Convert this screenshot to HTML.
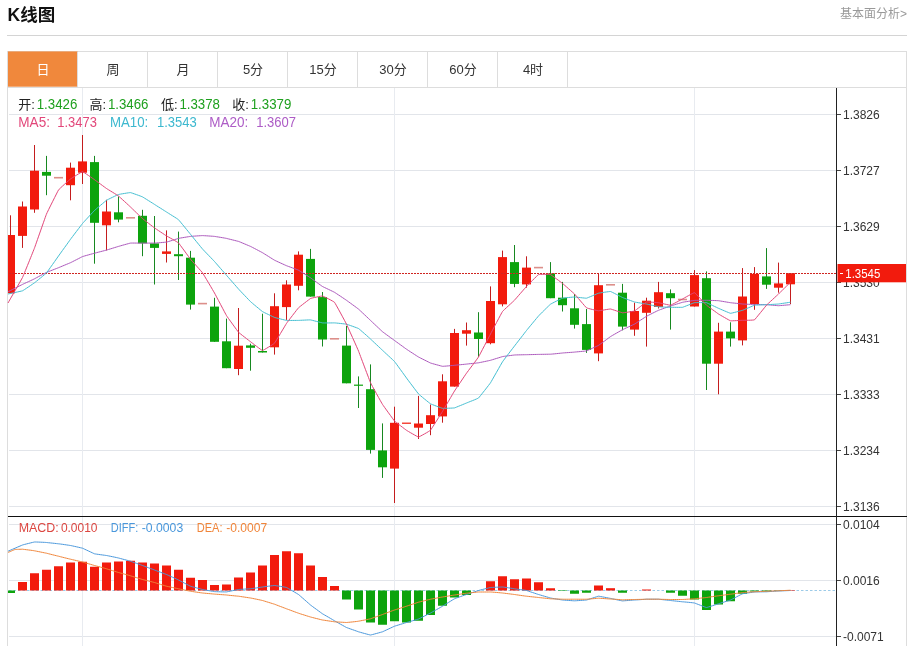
<!DOCTYPE html>
<html lang="zh-CN">
<head>
<meta charset="utf-8">
<title>K线图</title>
<style>
html,body{margin:0;padding:0;background:#fff;}
body{width:912px;height:646px;overflow:hidden;font-family:'Liberation Sans','Noto Sans CJK SC',sans-serif;}
svg{display:block;}
svg text{font-family:'Liberation Sans','Noto Sans CJK SC',sans-serif;}
</style>
</head>
<body>
<svg width="912" height="646" viewBox="0 0 912 646">
<rect width="912" height="646" fill="#fff"/>
<text x="7.6" y="21.3" font-size="17.5" font-weight="bold" fill="#111">K线图</text>
<text x="907" y="17.5" font-size="12" fill="#999" text-anchor="end">基本面分析&gt;</text>
<rect x="7" y="35" width="900" height="1" fill="#d4d4d4"/>
<rect x="7.5" y="51.5" width="899" height="36" fill="#fff" stroke="#ddd"/>
<rect x="8" y="51.4" width="69.5" height="35.3" fill="#f0883c"/>
<rect x="77" y="52" width="1" height="35" fill="#ddd"/>
<rect x="147" y="52" width="1" height="35" fill="#ddd"/>
<rect x="217" y="52" width="1" height="35" fill="#ddd"/>
<rect x="287" y="52" width="1" height="35" fill="#ddd"/>
<rect x="357" y="52" width="1" height="35" fill="#ddd"/>
<rect x="427" y="52" width="1" height="35" fill="#ddd"/>
<rect x="497" y="52" width="1" height="35" fill="#ddd"/>
<rect x="567" y="52" width="1" height="35" fill="#ddd"/>
<text x="43" y="74" font-size="13" text-anchor="middle" fill="#fff">日</text>
<text x="113" y="74" font-size="13" text-anchor="middle" fill="#333">周</text>
<text x="183" y="74" font-size="13" text-anchor="middle" fill="#333">月</text>
<text x="253" y="74" font-size="13" text-anchor="middle" fill="#333">5分</text>
<text x="323" y="74" font-size="13" text-anchor="middle" fill="#333">15分</text>
<text x="393" y="74" font-size="13" text-anchor="middle" fill="#333">30分</text>
<text x="463" y="74" font-size="13" text-anchor="middle" fill="#333">60分</text>
<text x="533" y="74" font-size="13" text-anchor="middle" fill="#333">4时</text>
<rect x="7" y="88" width="1" height="558" fill="#ddd"/>
<rect x="906" y="88" width="1" height="558" fill="#ddd"/>
<rect x="9" y="114" width="827" height="1" fill="#e2e5ea"/>
<rect x="9" y="170" width="827" height="1" fill="#e2e5ea"/>
<rect x="9" y="226" width="827" height="1" fill="#e2e5ea"/>
<rect x="9" y="282" width="827" height="1" fill="#e2e5ea"/>
<rect x="9" y="338" width="827" height="1" fill="#e2e5ea"/>
<rect x="9" y="394" width="827" height="1" fill="#e2e5ea"/>
<rect x="9" y="450" width="827" height="1" fill="#e2e5ea"/>
<rect x="9" y="506" width="827" height="1" fill="#e2e5ea"/>
<rect x="9" y="524" width="827" height="1" fill="#e2e5ea"/>
<rect x="9" y="580" width="827" height="1" fill="#e2e5ea"/>
<rect x="9" y="636" width="827" height="1" fill="#e2e5ea"/>
<rect x="82" y="88" width="1" height="558" fill="#e8ebf0"/>
<rect x="394" y="88" width="1" height="558" fill="#e8ebf0"/>
<rect x="694" y="88" width="1" height="558" fill="#e8ebf0"/>
<line x1="9" y1="590.5" x2="836" y2="590.5" stroke="#9ccbe8" stroke-width="1" stroke-dasharray="2.5,2"/>
<g shape-rendering="auto">
<line x1="10.5" y1="215.3" x2="10.5" y2="293.3" stroke="#c41d1e" stroke-width="1"/>
<rect x="8.0" y="235.0" width="7.0" height="58.3" fill="#f21b0d"/>
<line x1="22.5" y1="201.5" x2="22.5" y2="247.9" stroke="#c41d1e" stroke-width="1"/>
<rect x="18.0" y="206.5" width="9.0" height="29.4" fill="#f21b0d"/>
<line x1="34.5" y1="145.0" x2="34.5" y2="212.8" stroke="#c41d1e" stroke-width="1"/>
<rect x="30.0" y="170.7" width="9.0" height="38.8" fill="#f21b0d"/>
<line x1="46.5" y1="155.9" x2="46.5" y2="195.2" stroke="#178820" stroke-width="1"/>
<rect x="42.0" y="171.9" width="9.0" height="3.8" fill="#0da30d"/>
<rect x="54.0" y="176.9" width="9" height="1.6" fill="#dc8f8a"/>
<line x1="70.5" y1="162.6" x2="70.5" y2="200.3" stroke="#c41d1e" stroke-width="1"/>
<rect x="66.0" y="167.7" width="9.0" height="17.5" fill="#f21b0d"/>
<line x1="82.5" y1="135.0" x2="82.5" y2="184.0" stroke="#c41d1e" stroke-width="1"/>
<rect x="78.0" y="161.4" width="9.0" height="11.3" fill="#f21b0d"/>
<line x1="94.5" y1="155.9" x2="94.5" y2="263.7" stroke="#178820" stroke-width="1"/>
<rect x="90.0" y="162.1" width="9.0" height="60.7" fill="#0da30d"/>
<line x1="106.5" y1="199.8" x2="106.5" y2="250.4" stroke="#c41d1e" stroke-width="1"/>
<rect x="102.0" y="211.5" width="9.0" height="13.8" fill="#f21b0d"/>
<line x1="118.5" y1="196.5" x2="118.5" y2="222.3" stroke="#178820" stroke-width="1"/>
<rect x="114.0" y="212.3" width="9.0" height="7.3" fill="#0da30d"/>
<rect x="126.0" y="217.0" width="9" height="1.6" fill="#dc8f8a"/>
<line x1="142.5" y1="209.8" x2="142.5" y2="256.2" stroke="#178820" stroke-width="1"/>
<rect x="138.0" y="215.8" width="9.0" height="27.6" fill="#0da30d"/>
<line x1="154.5" y1="216.0" x2="154.5" y2="284.5" stroke="#178820" stroke-width="1"/>
<rect x="150.0" y="243.4" width="9.0" height="4.5" fill="#0da30d"/>
<line x1="166.5" y1="230.4" x2="166.5" y2="262.5" stroke="#c41d1e" stroke-width="1"/>
<rect x="162.0" y="251.4" width="9.0" height="2.5" fill="#f21b0d"/>
<line x1="178.5" y1="231.6" x2="178.5" y2="280.0" stroke="#178820" stroke-width="1"/>
<rect x="174.0" y="254.2" width="9.0" height="2.0" fill="#0da30d"/>
<line x1="190.5" y1="250.9" x2="190.5" y2="309.6" stroke="#178820" stroke-width="1"/>
<rect x="186.0" y="257.7" width="9.0" height="46.9" fill="#0da30d"/>
<rect x="198.0" y="302.8" width="9" height="1.6" fill="#dc8f8a"/>
<line x1="214.5" y1="297.8" x2="214.5" y2="341.8" stroke="#178820" stroke-width="1"/>
<rect x="210.0" y="306.6" width="9.0" height="35.2" fill="#0da30d"/>
<line x1="226.5" y1="318.6" x2="226.5" y2="368.2" stroke="#178820" stroke-width="1"/>
<rect x="222.0" y="341.3" width="9.0" height="26.9" fill="#0da30d"/>
<line x1="238.5" y1="308.0" x2="238.5" y2="375.2" stroke="#c41d1e" stroke-width="1"/>
<rect x="234.0" y="345.7" width="9.0" height="23.3" fill="#f21b0d"/>
<line x1="250.5" y1="343.7" x2="250.5" y2="370.7" stroke="#178820" stroke-width="1"/>
<rect x="246.0" y="345.4" width="9.0" height="2.4" fill="#0da30d"/>
<line x1="262.5" y1="313.7" x2="262.5" y2="352.5" stroke="#178820" stroke-width="1"/>
<rect x="258.0" y="351.0" width="9.0" height="1.5" fill="#0da30d"/>
<line x1="274.5" y1="293.3" x2="274.5" y2="354.6" stroke="#c41d1e" stroke-width="1"/>
<rect x="270.0" y="306.2" width="9.0" height="41.1" fill="#f21b0d"/>
<line x1="286.5" y1="280.3" x2="286.5" y2="319.9" stroke="#c41d1e" stroke-width="1"/>
<rect x="282.0" y="284.5" width="9.0" height="22.6" fill="#f21b0d"/>
<line x1="298.5" y1="251.4" x2="298.5" y2="290.3" stroke="#c41d1e" stroke-width="1"/>
<rect x="294.0" y="254.7" width="9.0" height="31.1" fill="#f21b0d"/>
<line x1="310.5" y1="248.9" x2="310.5" y2="296.6" stroke="#178820" stroke-width="1"/>
<rect x="306.0" y="258.9" width="9.0" height="37.7" fill="#0da30d"/>
<line x1="322.5" y1="292.0" x2="322.5" y2="346.5" stroke="#178820" stroke-width="1"/>
<rect x="318.0" y="297.1" width="9.0" height="42.4" fill="#0da30d"/>
<rect x="330.0" y="338.0" width="9" height="1.6" fill="#dc8f8a"/>
<line x1="346.5" y1="326.0" x2="346.5" y2="383.3" stroke="#178820" stroke-width="1"/>
<rect x="342.0" y="345.6" width="9.0" height="37.7" fill="#0da30d"/>
<line x1="358.5" y1="376.4" x2="358.5" y2="408.0" stroke="#178820" stroke-width="1"/>
<rect x="354.0" y="384.6" width="9.0" height="1.2" fill="#0da30d"/>
<line x1="370.5" y1="364.4" x2="370.5" y2="453.6" stroke="#178820" stroke-width="1"/>
<rect x="366.0" y="389.2" width="9.0" height="60.7" fill="#0da30d"/>
<line x1="382.5" y1="423.4" x2="382.5" y2="477.9" stroke="#178820" stroke-width="1"/>
<rect x="378.0" y="450.4" width="9.0" height="16.9" fill="#0da30d"/>
<line x1="394.5" y1="406.7" x2="394.5" y2="503.0" stroke="#c41d1e" stroke-width="1"/>
<rect x="390.0" y="422.8" width="9.0" height="45.8" fill="#f21b0d"/>
<line x1="406.5" y1="423.2" x2="406.5" y2="423.2" stroke="#c41d1e" stroke-width="1"/>
<rect x="402.0" y="422.6" width="9.0" height="1.2" fill="#f21b0d"/>
<line x1="418.5" y1="395.9" x2="418.5" y2="439.0" stroke="#c41d1e" stroke-width="1"/>
<rect x="414.0" y="423.5" width="9.0" height="4.2" fill="#f21b0d"/>
<line x1="430.5" y1="404.6" x2="430.5" y2="435.2" stroke="#c41d1e" stroke-width="1"/>
<rect x="426.0" y="415.2" width="9.0" height="8.8" fill="#f21b0d"/>
<line x1="442.5" y1="374.3" x2="442.5" y2="422.7" stroke="#c41d1e" stroke-width="1"/>
<rect x="438.0" y="381.3" width="9.0" height="35.1" fill="#f21b0d"/>
<line x1="454.5" y1="328.9" x2="454.5" y2="386.6" stroke="#c41d1e" stroke-width="1"/>
<rect x="450.0" y="333.0" width="9.0" height="53.6" fill="#f21b0d"/>
<line x1="466.5" y1="322.5" x2="466.5" y2="345.6" stroke="#c41d1e" stroke-width="1"/>
<rect x="462.0" y="330.2" width="9.0" height="3.5" fill="#f21b0d"/>
<line x1="478.5" y1="312.2" x2="478.5" y2="356.8" stroke="#178820" stroke-width="1"/>
<rect x="474.0" y="332.5" width="9.0" height="6.5" fill="#0da30d"/>
<line x1="490.5" y1="286.4" x2="490.5" y2="344.3" stroke="#c41d1e" stroke-width="1"/>
<rect x="486.0" y="301.0" width="9.0" height="42.2" fill="#f21b0d"/>
<line x1="502.5" y1="250.6" x2="502.5" y2="306.4" stroke="#c41d1e" stroke-width="1"/>
<rect x="498.0" y="257.1" width="9.0" height="47.2" fill="#f21b0d"/>
<line x1="514.5" y1="245.0" x2="514.5" y2="287.2" stroke="#178820" stroke-width="1"/>
<rect x="510.0" y="262.1" width="9.0" height="21.8" fill="#0da30d"/>
<line x1="526.5" y1="256.3" x2="526.5" y2="287.7" stroke="#c41d1e" stroke-width="1"/>
<rect x="522.0" y="267.6" width="9.0" height="16.8" fill="#f21b0d"/>
<rect x="534.0" y="266.8" width="9" height="1.6" fill="#dc8f8a"/>
<line x1="550.5" y1="262.1" x2="550.5" y2="298.2" stroke="#178820" stroke-width="1"/>
<rect x="546.0" y="273.4" width="9.0" height="24.8" fill="#0da30d"/>
<line x1="562.5" y1="281.9" x2="562.5" y2="311.5" stroke="#178820" stroke-width="1"/>
<rect x="558.0" y="297.7" width="9.0" height="7.5" fill="#0da30d"/>
<line x1="574.5" y1="294.0" x2="574.5" y2="328.6" stroke="#178820" stroke-width="1"/>
<rect x="570.0" y="308.3" width="9.0" height="16.5" fill="#0da30d"/>
<line x1="586.5" y1="309.0" x2="586.5" y2="352.9" stroke="#178820" stroke-width="1"/>
<rect x="582.0" y="324.1" width="9.0" height="25.8" fill="#0da30d"/>
<line x1="598.5" y1="273.9" x2="598.5" y2="361.2" stroke="#c41d1e" stroke-width="1"/>
<rect x="594.0" y="285.2" width="9.0" height="68.2" fill="#f21b0d"/>
<rect x="606.0" y="284.0" width="9" height="1.6" fill="#dc8f8a"/>
<line x1="622.5" y1="283.9" x2="622.5" y2="330.3" stroke="#178820" stroke-width="1"/>
<rect x="618.0" y="292.7" width="9.0" height="33.9" fill="#0da30d"/>
<line x1="634.5" y1="302.7" x2="634.5" y2="335.8" stroke="#c41d1e" stroke-width="1"/>
<rect x="630.0" y="311.0" width="9.0" height="18.6" fill="#f21b0d"/>
<line x1="646.5" y1="297.7" x2="646.5" y2="346.6" stroke="#c41d1e" stroke-width="1"/>
<rect x="642.0" y="300.7" width="9.0" height="12.1" fill="#f21b0d"/>
<line x1="658.5" y1="281.9" x2="658.5" y2="308.5" stroke="#c41d1e" stroke-width="1"/>
<rect x="654.0" y="292.2" width="9.0" height="14.8" fill="#f21b0d"/>
<line x1="670.5" y1="289.4" x2="670.5" y2="329.6" stroke="#178820" stroke-width="1"/>
<rect x="666.0" y="293.2" width="9.0" height="5.0" fill="#0da30d"/>
<rect x="678.0" y="298.7" width="9" height="1.6" fill="#dc8f8a"/>
<line x1="694.5" y1="270.1" x2="694.5" y2="306.5" stroke="#c41d1e" stroke-width="1"/>
<rect x="690.0" y="275.1" width="9.0" height="31.4" fill="#f21b0d"/>
<line x1="706.5" y1="271.4" x2="706.5" y2="390.0" stroke="#178820" stroke-width="1"/>
<rect x="702.0" y="278.2" width="9.0" height="85.5" fill="#0da30d"/>
<line x1="718.5" y1="322.8" x2="718.5" y2="394.3" stroke="#c41d1e" stroke-width="1"/>
<rect x="714.0" y="331.6" width="9.0" height="32.1" fill="#f21b0d"/>
<line x1="730.5" y1="322.3" x2="730.5" y2="346.6" stroke="#178820" stroke-width="1"/>
<rect x="726.0" y="331.6" width="9.0" height="6.8" fill="#0da30d"/>
<line x1="742.5" y1="268.1" x2="742.5" y2="345.4" stroke="#c41d1e" stroke-width="1"/>
<rect x="738.0" y="296.5" width="9.0" height="43.9" fill="#f21b0d"/>
<line x1="754.5" y1="267.1" x2="754.5" y2="309.8" stroke="#c41d1e" stroke-width="1"/>
<rect x="750.0" y="273.9" width="9.0" height="30.1" fill="#f21b0d"/>
<line x1="766.5" y1="248.1" x2="766.5" y2="288.9" stroke="#178820" stroke-width="1"/>
<rect x="762.0" y="276.4" width="9.0" height="8.3" fill="#0da30d"/>
<line x1="778.5" y1="262.6" x2="778.5" y2="292.7" stroke="#c41d1e" stroke-width="1"/>
<rect x="774.0" y="283.4" width="9.0" height="4.3" fill="#f21b0d"/>
<line x1="790.5" y1="273.2" x2="790.5" y2="304.0" stroke="#c41d1e" stroke-width="1"/>
<rect x="786.0" y="273.2" width="9.0" height="11.1" fill="#f21b0d"/>
</g>
<line x1="9" y1="273.5" x2="837" y2="273.5" stroke="#cf2420" stroke-width="1" stroke-dasharray="2,1"/>
<path fill="none" stroke="#ac58bc" stroke-width="1.0" stroke-linejoin="round" d="M8.0,291.8 C8.4,291.6 21.7,284.8 22.5,284.4 C23.3,284.0 33.8,279.2 34.5,278.8 C35.2,278.4 45.8,272.7 46.5,272.4 C47.2,272.1 57.8,268.0 58.5,267.7 C59.2,267.4 69.8,263.0 70.5,262.7 C71.2,262.4 81.8,256.9 82.5,256.6 C83.2,256.3 93.8,253.4 94.5,253.2 C95.2,253.0 105.8,250.3 106.5,250.1 C107.2,249.9 117.8,246.6 118.5,246.4 C119.2,246.2 129.8,243.2 130.5,243.1 C131.2,243.0 141.8,243.1 142.5,243.1 C143.2,243.1 153.8,243.1 154.5,243.1 C155.2,243.1 165.8,242.2 166.5,242.1 C167.2,242.0 177.8,238.6 178.5,238.4 C179.2,238.2 189.8,236.5 190.5,236.4 C191.2,236.3 201.8,235.6 202.5,235.6 C203.2,235.6 213.8,236.3 214.5,236.4 C215.2,236.5 225.8,238.2 226.5,238.4 C227.2,238.6 237.8,241.2 238.5,241.4 C239.2,241.6 249.8,246.1 250.5,246.4 C251.2,246.7 261.8,252.3 262.5,252.7 C263.2,253.1 273.8,259.8 274.5,260.2 C275.2,260.6 285.8,265.4 286.5,265.7 C287.2,266.0 297.8,269.8 298.5,270.2 C299.2,270.6 309.8,277.3 310.5,277.8 C311.2,278.3 321.8,286.1 322.5,286.5 C323.2,286.9 333.8,291.9 334.5,292.3 C335.2,292.7 345.8,299.8 346.5,300.3 C347.2,300.8 357.8,308.5 358.5,309.1 C359.2,309.7 369.8,319.7 370.5,320.4 C371.2,321.1 381.8,331.1 382.5,331.7 C383.2,332.3 393.8,340.0 394.5,340.5 C395.2,341.0 405.8,348.7 406.5,349.2 C407.2,349.7 417.8,356.6 418.5,357.0 C419.2,357.4 429.8,362.7 430.5,363.0 C431.2,363.3 441.8,366.2 442.5,366.3 C443.2,366.4 453.8,365.4 454.5,365.3 C455.2,365.2 465.8,364.2 466.5,364.1 C467.2,364.0 477.8,362.9 478.5,362.8 C479.2,362.7 489.8,360.5 490.5,360.3 C491.2,360.1 501.8,356.8 502.5,356.6 C503.2,356.4 513.8,355.1 514.5,355.0 C515.2,354.9 525.8,354.7 526.5,354.7 C527.2,354.7 537.8,354.4 538.5,354.4 C539.2,354.4 549.8,354.2 550.5,354.2 C551.2,354.2 561.8,353.1 562.5,353.0 C563.2,352.9 573.8,352.2 574.5,352.1 C575.2,352.0 585.8,351.1 586.5,350.9 C587.2,350.7 597.8,345.8 598.5,345.4 C599.2,345.0 609.8,337.1 610.5,336.6 C611.2,336.1 621.8,330.1 622.5,329.7 C623.2,329.3 633.8,324.5 634.5,324.1 C635.2,323.7 645.8,316.7 646.5,316.3 C647.2,315.9 657.8,310.6 658.5,310.3 C659.2,310.0 669.8,306.2 670.5,306.0 C671.2,305.8 681.8,302.5 682.5,302.3 C683.2,302.1 693.8,300.5 694.5,300.4 C695.2,300.3 705.8,300.3 706.5,300.3 C707.2,300.3 717.8,300.6 718.5,300.7 C719.2,300.8 729.8,302.6 730.5,302.7 C731.2,302.8 741.8,303.9 742.5,304.0 C743.2,304.1 753.8,304.5 754.5,304.5 C755.2,304.5 765.8,304.7 766.5,304.7 C767.2,304.7 777.8,305.7 778.5,305.7 C779.2,305.7 790.1,304.7 790.5,304.7"/>
<path fill="none" stroke="#45bfd2" stroke-width="1.0" stroke-linejoin="round" d="M8.0,294.0 C8.4,293.9 21.7,291.1 22.5,290.8 C23.3,290.5 33.8,283.3 34.5,282.8 C35.2,282.3 45.8,273.7 46.5,272.9 C47.2,272.1 57.8,257.0 58.5,256.0 C59.2,255.0 69.8,240.3 70.5,239.3 C71.2,238.3 81.8,224.4 82.5,223.5 C83.2,222.6 93.8,211.2 94.5,210.5 C95.2,209.8 105.8,200.8 106.5,200.3 C107.2,199.8 117.8,194.7 118.5,194.5 C119.2,194.3 129.8,192.5 130.5,192.6 C131.2,192.7 141.8,196.5 142.5,196.9 C143.2,197.3 153.8,203.9 154.5,204.4 C155.2,204.9 165.8,211.5 166.5,212.0 C167.2,212.5 177.8,219.0 178.5,219.7 C179.2,220.4 189.8,233.4 190.5,234.3 C191.2,235.2 201.8,248.2 202.5,249.0 C203.2,249.8 213.8,260.7 214.5,261.5 C215.2,262.3 225.8,274.5 226.5,275.3 C227.2,276.1 237.8,288.2 238.5,289.0 C239.2,289.8 249.8,300.9 250.5,301.6 C251.2,302.3 261.8,311.1 262.5,311.6 C263.2,312.1 273.8,317.1 274.5,317.4 C275.2,317.7 285.8,320.3 286.5,320.4 C287.2,320.5 297.8,320.4 298.5,320.4 C299.2,320.4 309.8,319.8 310.5,319.9 C311.2,320.0 321.8,322.8 322.5,322.9 C323.2,323.0 333.8,322.9 334.5,322.9 C335.2,322.9 345.8,324.0 346.5,324.2 C347.2,324.4 357.8,328.1 358.5,328.5 C359.2,328.9 369.8,338.3 370.5,339.0 C371.2,339.7 381.8,349.6 382.5,350.3 C383.2,351.0 393.8,360.7 394.5,361.5 C395.2,362.3 405.8,377.0 406.5,378.0 C407.2,379.0 417.8,393.1 418.5,393.9 C419.2,394.7 429.8,403.4 430.5,403.8 C431.2,404.2 441.8,408.2 442.5,408.3 C443.2,408.4 453.8,408.1 454.5,407.9 C455.2,407.7 465.8,403.3 466.5,403.0 C467.2,402.7 477.8,398.6 478.5,398.0 C479.2,397.4 489.8,383.9 490.5,382.8 C491.2,381.7 501.8,362.9 502.5,361.8 C503.2,360.7 513.8,346.9 514.5,346.0 C515.2,345.1 525.8,331.4 526.5,330.5 C527.2,329.6 537.8,316.8 538.5,316.0 C539.2,315.2 549.8,304.7 550.5,304.2 C551.2,303.7 561.8,298.4 562.5,298.2 C563.2,298.0 573.8,297.0 574.5,297.0 C575.2,297.0 585.8,298.3 586.5,298.2 C587.2,298.1 597.8,293.4 598.5,293.2 C599.2,293.0 609.8,291.4 610.5,291.5 C611.2,291.6 621.8,297.2 622.5,297.5 C623.2,297.8 633.8,301.8 634.5,302.0 C635.2,302.2 645.8,303.9 646.5,304.0 C647.2,304.1 657.8,306.7 658.5,306.8 C659.2,306.9 669.8,307.3 670.5,307.3 C671.2,307.3 681.8,307.4 682.5,307.3 C683.2,307.2 693.8,302.8 694.5,302.7 C695.2,302.6 705.8,302.5 706.5,302.7 C707.2,302.9 717.8,308.0 718.5,308.3 C719.2,308.6 729.8,313.2 730.5,313.3 C731.2,313.4 741.8,310.5 742.5,310.3 C743.2,310.1 753.8,305.4 754.5,305.2 C755.2,305.0 765.8,304.7 766.5,304.7 C767.2,304.7 777.8,304.1 778.5,304.0 C779.2,303.9 790.1,302.3 790.5,302.2"/>
<path fill="none" stroke="#e2477a" stroke-width="1.0" stroke-linejoin="round" d="M8.0,303.0 C8.4,302.2 21.7,279.1 22.5,277.5 C23.3,275.9 33.8,249.9 34.5,248.0 C35.2,246.1 45.8,215.7 46.5,214.0 C47.2,212.3 57.8,191.1 58.5,190.0 C59.2,188.9 69.8,179.5 70.5,179.0 C71.2,178.5 81.8,171.7 82.5,171.7 C83.2,171.7 93.8,179.2 94.5,179.7 C95.2,180.2 105.8,188.0 106.5,188.5 C107.2,189.0 117.8,195.4 118.5,196.0 C119.2,196.6 129.8,206.3 130.5,207.0 C131.2,207.7 141.8,218.0 142.5,218.6 C143.2,219.2 153.8,227.4 154.5,227.9 C155.2,228.4 165.8,235.5 166.5,235.9 C167.2,236.3 177.8,242.2 178.5,242.9 C179.2,243.6 189.8,258.3 190.5,259.2 C191.2,260.1 201.8,271.8 202.5,272.8 C203.2,273.8 213.8,291.7 214.5,293.0 C215.2,294.3 225.8,314.4 226.5,315.6 C227.2,316.8 237.8,331.4 238.5,332.2 C239.2,333.0 249.8,341.2 250.5,341.7 C251.2,342.2 261.8,350.5 262.5,350.5 C263.2,350.5 273.8,344.0 274.5,343.2 C275.2,342.4 285.8,324.5 286.5,323.4 C287.2,322.3 297.8,308.5 298.5,307.8 C299.2,307.1 309.8,298.9 310.5,298.5 C311.2,298.1 321.8,295.9 322.5,296.0 C323.2,296.1 333.8,301.5 334.5,302.3 C335.2,303.1 345.8,322.7 346.5,324.2 C347.2,325.7 357.8,349.2 358.5,351.0 C359.2,352.8 369.8,381.1 370.5,382.7 C371.2,384.3 381.8,403.3 382.5,404.4 C383.2,405.5 393.8,420.2 394.5,421.0 C395.2,421.8 405.8,429.8 406.5,430.3 C407.2,430.8 417.8,437.0 418.5,437.0 C419.2,437.0 429.8,431.0 430.5,430.2 C431.2,429.4 441.8,412.6 442.5,411.4 C443.2,410.2 453.8,392.1 454.5,391.0 C455.2,389.9 465.8,374.2 466.5,373.2 C467.2,372.2 477.8,358.2 478.5,357.0 C479.2,355.8 489.8,335.4 490.5,334.0 C491.2,332.6 501.8,312.5 502.5,311.5 C503.2,310.5 513.8,301.0 514.5,300.2 C515.2,299.4 525.8,287.2 526.5,286.4 C527.2,285.6 537.8,275.0 538.5,274.6 C539.2,274.2 549.8,274.3 550.5,274.6 C551.2,274.9 561.8,282.8 562.5,283.4 C563.2,284.0 573.8,293.3 574.5,294.0 C575.2,294.7 585.8,307.3 586.5,307.8 C587.2,308.3 597.8,310.8 598.5,310.8 C599.2,310.8 609.8,308.9 610.5,309.0 C611.2,309.1 621.8,312.7 622.5,312.8 C623.2,312.9 633.8,311.3 634.5,311.0 C635.2,310.7 645.8,302.2 646.5,302.0 C647.2,301.8 657.8,302.6 658.5,302.7 C659.2,302.8 669.8,305.3 670.5,305.2 C671.2,305.1 681.8,299.4 682.5,299.0 C683.2,298.6 693.8,292.5 694.5,292.7 C695.2,292.9 705.8,304.6 706.5,305.2 C707.2,305.8 717.8,313.5 718.5,314.0 C719.2,314.5 729.8,320.6 730.5,320.8 C731.2,321.0 741.8,320.3 742.5,320.3 C743.2,320.3 753.8,320.3 754.5,319.8 C755.2,319.3 765.8,306.0 766.5,305.2 C767.2,304.4 777.8,294.7 778.5,294.0 C779.2,293.3 790.1,282.6 790.5,282.2"/>
<rect x="8.0" y="590.50" width="7.0" height="2.50" fill="#0da30d"/>
<rect x="18.0" y="582.00" width="9.0" height="8.50" fill="#f21b0d"/>
<rect x="30.0" y="573.25" width="9.0" height="17.25" fill="#f21b0d"/>
<rect x="42.0" y="569.75" width="9.0" height="20.75" fill="#f21b0d"/>
<rect x="54.0" y="566.25" width="9.0" height="24.25" fill="#f21b0d"/>
<rect x="66.0" y="562.50" width="9.0" height="28.00" fill="#f21b0d"/>
<rect x="78.0" y="561.75" width="9.0" height="28.75" fill="#f21b0d"/>
<rect x="90.0" y="566.75" width="9.0" height="23.75" fill="#f21b0d"/>
<rect x="102.0" y="562.50" width="9.0" height="28.00" fill="#f21b0d"/>
<rect x="114.0" y="561.50" width="9.0" height="29.00" fill="#f21b0d"/>
<rect x="126.0" y="560.75" width="9.0" height="29.75" fill="#f21b0d"/>
<rect x="138.0" y="562.50" width="9.0" height="28.00" fill="#f21b0d"/>
<rect x="150.0" y="563.50" width="9.0" height="27.00" fill="#f21b0d"/>
<rect x="162.0" y="565.50" width="9.0" height="25.00" fill="#f21b0d"/>
<rect x="174.0" y="569.75" width="9.0" height="20.75" fill="#f21b0d"/>
<rect x="186.0" y="577.75" width="9.0" height="12.75" fill="#f21b0d"/>
<rect x="198.0" y="580.00" width="9.0" height="10.50" fill="#f21b0d"/>
<rect x="210.0" y="585.00" width="9.0" height="5.50" fill="#f21b0d"/>
<rect x="222.0" y="584.50" width="9.0" height="6.00" fill="#f21b0d"/>
<rect x="234.0" y="577.50" width="9.0" height="13.00" fill="#f21b0d"/>
<rect x="246.0" y="572.50" width="9.0" height="18.00" fill="#f21b0d"/>
<rect x="258.0" y="565.50" width="9.0" height="25.00" fill="#f21b0d"/>
<rect x="270.0" y="555.00" width="9.0" height="35.50" fill="#f21b0d"/>
<rect x="282.0" y="551.25" width="9.0" height="39.25" fill="#f21b0d"/>
<rect x="294.0" y="553.25" width="9.0" height="37.25" fill="#f21b0d"/>
<rect x="306.0" y="565.50" width="9.0" height="25.00" fill="#f21b0d"/>
<rect x="318.0" y="577.00" width="9.0" height="13.50" fill="#f21b0d"/>
<rect x="330.0" y="586.00" width="9.0" height="4.50" fill="#f21b0d"/>
<rect x="342.0" y="590.50" width="9.0" height="9.00" fill="#0da30d"/>
<rect x="354.0" y="590.50" width="9.0" height="19.00" fill="#0da30d"/>
<rect x="366.0" y="590.50" width="9.0" height="32.00" fill="#0da30d"/>
<rect x="378.0" y="590.50" width="9.0" height="34.25" fill="#0da30d"/>
<rect x="390.0" y="590.50" width="9.0" height="30.75" fill="#0da30d"/>
<rect x="402.0" y="590.50" width="9.0" height="32.00" fill="#0da30d"/>
<rect x="414.0" y="590.50" width="9.0" height="30.25" fill="#0da30d"/>
<rect x="426.0" y="590.50" width="9.0" height="24.50" fill="#0da30d"/>
<rect x="438.0" y="590.50" width="9.0" height="15.25" fill="#0da30d"/>
<rect x="450.0" y="590.50" width="9.0" height="7.00" fill="#0da30d"/>
<rect x="462.0" y="590.50" width="9.0" height="4.50" fill="#0da30d"/>
<rect x="486.0" y="581.25" width="9.0" height="9.25" fill="#f21b0d"/>
<rect x="498.0" y="576.25" width="9.0" height="14.25" fill="#f21b0d"/>
<rect x="510.0" y="579.25" width="9.0" height="11.25" fill="#f21b0d"/>
<rect x="522.0" y="578.50" width="9.0" height="12.00" fill="#f21b0d"/>
<rect x="534.0" y="582.25" width="9.0" height="8.25" fill="#f21b0d"/>
<rect x="546.0" y="588.25" width="9.0" height="2.25" fill="#f21b0d"/>
<rect x="558.0" y="590.50" width="9.0" height="0.50" fill="#0da30d"/>
<rect x="570.0" y="590.50" width="9.0" height="3.25" fill="#0da30d"/>
<rect x="582.0" y="590.50" width="9.0" height="2.25" fill="#0da30d"/>
<rect x="594.0" y="585.50" width="9.0" height="5.00" fill="#f21b0d"/>
<rect x="606.0" y="588.20" width="9.0" height="2.30" fill="#f21b0d"/>
<rect x="618.0" y="590.50" width="9.0" height="2.25" fill="#0da30d"/>
<rect x="642.0" y="589.50" width="9.0" height="1.00" fill="#f21b0d"/>
<rect x="666.0" y="590.50" width="9.0" height="2.25" fill="#0da30d"/>
<rect x="678.0" y="590.50" width="9.0" height="5.25" fill="#0da30d"/>
<rect x="690.0" y="590.50" width="9.0" height="9.00" fill="#0da30d"/>
<rect x="702.0" y="590.50" width="9.0" height="19.50" fill="#0da30d"/>
<rect x="714.0" y="590.50" width="9.0" height="14.00" fill="#0da30d"/>
<rect x="726.0" y="590.50" width="9.0" height="10.75" fill="#0da30d"/>
<rect x="738.0" y="590.50" width="9.0" height="3.25" fill="#0da30d"/>
<rect x="750.0" y="590.50" width="9.0" height="1.00" fill="#0da30d"/>
<rect x="762.0" y="590.50" width="9.0" height="1.00" fill="#0da30d"/>
<rect x="774.0" y="590.50" width="9.0" height="0.30" fill="#0da30d"/>
<rect x="786.0" y="590.00" width="9.0" height="0.50" fill="#f21b0d"/>
<path fill="none" stroke="#4a98dc" stroke-width="1.0" stroke-linejoin="round" d="M8.0,551.2 C8.4,551.1 21.7,545.3 22.5,545.0 C23.3,544.7 33.8,542.1 34.5,542.0 C35.2,541.9 45.8,542.4 46.5,542.5 C47.2,542.6 57.8,543.7 58.5,543.8 C59.2,543.8 69.8,545.4 70.5,545.5 C71.2,545.6 81.8,548.0 82.5,548.2 C83.2,548.5 93.8,553.5 94.5,553.8 C95.2,554.0 105.8,555.4 106.5,555.5 C107.2,555.6 117.8,557.8 118.5,558.0 C119.2,558.2 129.8,561.0 130.5,561.2 C131.2,561.5 141.8,565.2 142.5,565.5 C143.2,565.8 153.8,569.7 154.5,570.0 C155.2,570.3 165.8,574.2 166.5,574.5 C167.2,574.8 177.8,579.6 178.5,580.0 C179.2,580.4 189.8,586.0 190.5,586.2 C191.2,586.5 201.8,589.3 202.5,589.5 C203.2,589.7 213.8,591.5 214.5,591.6 C215.2,591.7 225.8,592.0 226.5,591.9 C227.2,591.8 237.8,589.6 238.5,589.5 C239.2,589.4 249.8,588.8 250.5,588.8 C251.2,588.7 261.8,587.1 262.5,587.0 C263.2,586.9 273.8,585.5 274.5,585.5 C275.2,585.5 285.8,587.2 286.5,587.5 C287.2,587.8 297.8,594.0 298.5,594.5 C299.2,595.0 309.8,604.4 310.5,605.0 C311.2,605.6 321.8,613.3 322.5,613.8 C323.2,614.2 333.8,620.3 334.5,620.8 C335.2,621.2 345.8,627.2 346.5,627.5 C347.2,627.8 357.8,631.5 358.5,631.8 C359.2,632.0 369.8,635.0 370.5,635.0 C371.2,635.0 381.8,632.0 382.5,631.8 C383.2,631.5 393.8,626.5 394.5,626.2 C395.2,626.0 405.8,622.7 406.5,622.5 C407.2,622.3 417.8,619.3 418.5,619.0 C419.2,618.7 429.8,613.4 430.5,613.0 C431.2,612.6 441.8,606.7 442.5,606.2 C443.2,605.8 453.8,599.1 454.5,598.8 C455.2,598.4 465.8,594.7 466.5,594.5 C467.2,594.3 477.8,590.7 478.5,590.5 C479.2,590.3 489.8,587.6 490.5,587.5 C491.2,587.4 501.8,587.0 502.5,587.0 C503.2,587.0 513.8,588.6 514.5,588.8 C515.2,588.9 525.8,590.3 526.5,590.5 C527.2,590.7 537.8,594.3 538.5,594.5 C539.2,594.7 549.8,597.8 550.5,598.0 C551.2,598.2 561.8,599.9 562.5,600.0 C563.2,600.1 573.8,600.8 574.5,600.8 C575.2,600.8 585.8,600.1 586.5,600.0 C587.2,599.9 597.8,596.3 598.5,596.2 C599.2,596.2 609.8,598.3 610.5,598.4 C611.2,598.5 621.8,600.9 622.5,600.9 C623.2,600.9 633.8,600.0 634.5,600.0 C635.2,600.0 645.8,599.3 646.5,599.2 C647.2,599.2 657.8,599.2 658.5,599.2 C659.2,599.3 669.8,600.4 670.5,600.5 C671.2,600.6 681.8,601.7 682.5,601.8 C683.2,601.8 693.8,602.8 694.5,603.0 C695.2,603.2 705.8,607.5 706.5,607.5 C707.2,607.5 717.8,604.0 718.5,603.8 C719.2,603.5 729.8,600.3 730.5,600.0 C731.2,599.7 741.8,594.0 742.5,593.8 C743.2,593.5 753.8,592.1 754.5,592.0 C755.2,591.9 765.8,591.8 766.5,591.8 C767.2,591.7 777.8,591.0 778.5,591.0 C779.2,591.0 790.1,590.5 790.5,590.5"/>
<path fill="none" stroke="#f0853a" stroke-width="1.0" stroke-linejoin="round" d="M8.0,552.5 C8.2,552.4 14.6,549.6 15.0,549.5 C15.4,549.4 21.9,549.2 22.5,549.2 C23.1,549.3 33.8,550.6 34.5,550.8 C35.2,550.9 45.8,553.1 46.5,553.2 C47.2,553.4 57.8,556.1 58.5,556.2 C59.2,556.4 69.8,559.1 70.5,559.2 C71.2,559.4 81.8,561.8 82.5,562.0 C83.2,562.2 93.8,565.3 94.5,565.5 C95.2,565.7 105.8,568.5 106.5,568.8 C107.2,569.0 117.8,572.3 118.5,572.5 C119.2,572.7 129.8,575.5 130.5,575.8 C131.2,576.0 141.8,579.3 142.5,579.5 C143.2,579.7 153.8,582.3 154.5,582.5 C155.2,582.7 165.8,586.1 166.5,586.2 C167.2,586.4 177.8,588.6 178.5,588.8 C179.2,588.9 189.8,591.1 190.5,591.2 C191.2,591.4 201.8,592.9 202.5,593.0 C203.2,593.1 213.8,594.0 214.5,594.1 C215.2,594.2 225.8,594.9 226.5,595.0 C227.2,595.1 237.8,596.2 238.5,596.2 C239.2,596.3 249.8,597.9 250.5,598.0 C251.2,598.1 261.8,600.3 262.5,600.5 C263.2,600.7 273.8,604.0 274.5,604.2 C275.2,604.5 285.8,608.5 286.5,608.8 C287.2,609.0 297.8,613.0 298.5,613.2 C299.2,613.5 309.8,616.8 310.5,617.0 C311.2,617.2 321.8,619.9 322.5,620.0 C323.2,620.1 333.8,621.7 334.5,621.8 C335.2,621.8 345.8,622.5 346.5,622.5 C347.2,622.5 357.8,621.4 358.5,621.2 C359.2,621.1 369.8,619.0 370.5,618.8 C371.2,618.5 381.8,614.8 382.5,614.5 C383.2,614.2 393.8,610.2 394.5,610.0 C395.2,609.8 405.8,606.5 406.5,606.2 C407.2,606.0 417.8,602.4 418.5,602.2 C419.2,602.0 429.8,599.4 430.5,599.2 C431.2,599.1 441.8,597.1 442.5,597.0 C443.2,596.9 453.8,595.1 454.5,595.0 C455.2,594.9 465.8,593.3 466.5,593.2 C467.2,593.2 477.8,592.0 478.5,592.0 C479.2,592.0 489.8,592.0 490.5,592.0 C491.2,592.0 501.8,592.9 502.5,593.0 C503.2,593.1 513.8,594.4 514.5,594.5 C515.2,594.6 525.8,596.2 526.5,596.2 C527.2,596.3 537.8,597.4 538.5,597.5 C539.2,597.6 549.8,598.7 550.5,598.8 C551.2,598.8 561.8,599.2 562.5,599.2 C563.2,599.3 573.8,599.2 574.5,599.2 C575.2,599.2 585.8,599.3 586.5,599.2 C587.2,599.2 597.8,598.3 598.5,598.2 C599.2,598.2 609.8,599.0 610.5,599.0 C611.2,599.0 621.8,599.7 622.5,599.8 C623.2,599.8 633.8,599.5 634.5,599.5 C635.2,599.5 645.8,599.3 646.5,599.2 C647.2,599.2 657.8,599.2 658.5,599.2 C659.2,599.3 669.8,599.5 670.5,599.5 C671.2,599.5 681.8,599.5 682.5,599.5 C683.2,599.5 693.8,598.8 694.5,598.8 C695.2,598.7 705.8,597.6 706.5,597.5 C707.2,597.4 717.8,595.8 718.5,595.8 C719.2,595.7 729.8,594.3 730.5,594.2 C731.2,594.2 741.8,592.6 742.5,592.5 C743.2,592.4 753.8,591.8 754.5,591.8 C755.2,591.7 765.8,591.3 766.5,591.2 C767.2,591.2 777.8,590.8 778.5,590.8 C779.2,590.7 790.1,590.3 790.5,590.2"/>
<rect x="8" y="516" width="899" height="1" fill="#111"/>
<rect x="836" y="88" width="1" height="558" fill="#222"/>
<rect x="837" y="114" width="4" height="1" fill="#444"/>
<text x="843" y="118.8" font-size="12" fill="#333">1.3826</text>
<rect x="837" y="170" width="4" height="1" fill="#444"/>
<text x="843" y="174.8" font-size="12" fill="#333">1.3727</text>
<rect x="837" y="226" width="4" height="1" fill="#444"/>
<text x="843" y="230.8" font-size="12" fill="#333">1.3629</text>
<rect x="837" y="282" width="4" height="1" fill="#444"/>
<text x="843" y="286.8" font-size="12" fill="#333">1.3530</text>
<rect x="837" y="338" width="4" height="1" fill="#444"/>
<text x="843" y="342.8" font-size="12" fill="#333">1.3431</text>
<rect x="837" y="394" width="4" height="1" fill="#444"/>
<text x="843" y="398.8" font-size="12" fill="#333">1.3333</text>
<rect x="837" y="450" width="4" height="1" fill="#444"/>
<text x="843" y="454.8" font-size="12" fill="#333">1.3234</text>
<rect x="837" y="506" width="4" height="1" fill="#444"/>
<text x="843" y="510.8" font-size="12" fill="#333">1.3136</text>
<rect x="837" y="524" width="4" height="1" fill="#444"/>
<text x="843" y="528.8" font-size="12" fill="#333">0.0104</text>
<rect x="837" y="580" width="4" height="1" fill="#444"/>
<text x="843" y="584.8" font-size="12" fill="#333">0.0016</text>
<rect x="837" y="636" width="4" height="1" fill="#444"/>
<text x="843" y="640.8" font-size="12" fill="#333">-0.0071</text>
<rect x="837.5" y="264" width="68.5" height="18.3" fill="#f21b0d"/>
<rect x="840" y="273" width="3" height="1" fill="#fff"/>
<text x="845.3" y="278.3" font-size="12" fill="#fff" textLength="35" lengthAdjust="spacingAndGlyphs">1.3545</text>
<text x="18.3" y="108.5" font-size="13" fill="#222">开:</text>
<text x="36.7" y="108.8" font-size="14" fill="#1ea01e" textLength="40.6" lengthAdjust="spacingAndGlyphs">1.3426</text>
<text x="89.5" y="108.5" font-size="13" fill="#222">高:</text>
<text x="107.9" y="108.8" font-size="14" fill="#1ea01e" textLength="40.6" lengthAdjust="spacingAndGlyphs">1.3466</text>
<text x="161.0" y="108.5" font-size="13" fill="#222">低:</text>
<text x="179.4" y="108.8" font-size="14" fill="#1ea01e" textLength="40.6" lengthAdjust="spacingAndGlyphs">1.3378</text>
<text x="232.3" y="108.5" font-size="13" fill="#222">收:</text>
<text x="250.7" y="108.8" font-size="14" fill="#1ea01e" textLength="40.6" lengthAdjust="spacingAndGlyphs">1.3379</text>
<text x="18.3" y="126.6" font-size="14" fill="#e2477a" textLength="31.7" lengthAdjust="spacingAndGlyphs">MA5:</text>
<text x="57.3" y="126.6" font-size="14" fill="#e2477a" textLength="39.6" lengthAdjust="spacingAndGlyphs">1.3473</text>
<text x="110.0" y="126.6" font-size="14" fill="#3cb8cf" textLength="38.3" lengthAdjust="spacingAndGlyphs">MA10:</text>
<text x="156.9" y="126.6" font-size="14" fill="#3cb8cf" textLength="39.8" lengthAdjust="spacingAndGlyphs">1.3543</text>
<text x="209.3" y="126.6" font-size="14" fill="#ad5cc6" textLength="39.0" lengthAdjust="spacingAndGlyphs">MA20:</text>
<text x="256.2" y="126.6" font-size="14" fill="#ad5cc6" textLength="39.8" lengthAdjust="spacingAndGlyphs">1.3607</text>
<text x="18.7" y="532.0" font-size="12.5" fill="#dc4640" textLength="40.0" lengthAdjust="spacingAndGlyphs">MACD:</text>
<text x="60.9" y="532.0" font-size="12.5" fill="#dc4640" textLength="36.6" lengthAdjust="spacingAndGlyphs">0.0010</text>
<text x="110.7" y="532.0" font-size="12.5" fill="#4a98dc" textLength="27.5" lengthAdjust="spacingAndGlyphs">DIFF:</text>
<text x="141.8" y="532.0" font-size="12.5" fill="#4a98dc" textLength="41.4" lengthAdjust="spacingAndGlyphs">-0.0003</text>
<text x="196.7" y="532.0" font-size="12.5" fill="#f0853a" textLength="25.8" lengthAdjust="spacingAndGlyphs">DEA:</text>
<text x="226.3" y="532.0" font-size="12.5" fill="#f0853a" textLength="40.8" lengthAdjust="spacingAndGlyphs">-0.0007</text>
</svg>
</body>
</html>
